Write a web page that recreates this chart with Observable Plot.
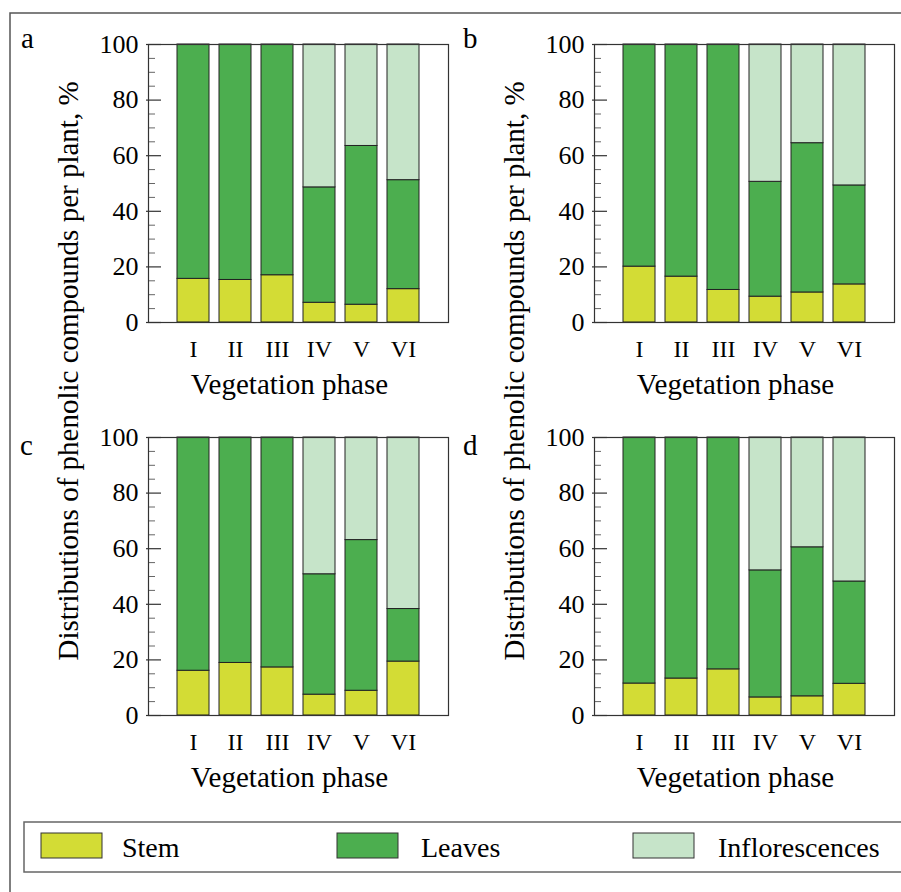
<!DOCTYPE html>
<html>
<head>
<meta charset="utf-8">
<script src="https://cdn.jsdelivr.net/npm/d3@7"></script>
<script src="https://cdn.jsdelivr.net/npm/@observablehq/plot@0.6"></script>
<style>
  html, body { margin: 0; padding: 0; background: #fff; }
  #root { position: relative; width: 901px; height: 892px; overflow: hidden; font-family: 'Liberation Serif', serif; }
  .panel { position: absolute; }
  .panel svg { overflow: visible; }
  #overlay { position: absolute; left: 0; top: 0; pointer-events: none; }
</style>
</head>
<body>
<div id="root"></div>
<script>
// ---- data ----
const phases = ["I", "II", "III", "IV", "V", "VI"];
const parts = ["Stem", "Leaves", "Inflorescences"];
const partColors = ["#d3dc35", "#4cae4f", "#c6e4c9"];
const yTicks = [0, 20, 40, 60, 80, 100];
const yMinorTicks = [5, 10, 15, 25, 30, 35, 45, 50, 55, 65, 70, 75, 85, 90, 95];
const panelLetters = ["a", "b", "c", "d"];
const xTitle = "Vegetation phase";
const yTitle = "Distributions of phenolic compounds per plant, %";

// panel a
const stemA = [15.7, 15.3, 17.0, 7.1, 6.4, 12.0];
const leavesA = [84.3, 84.7, 83.0, 41.5, 57.1, 39.2];
const inflA = [0, 0, 0, 51.4, 36.5, 48.8];
// panel b
const stemB = [20.1, 16.5, 11.7, 9.3, 10.8, 13.7];
const leavesB = [79.9, 83.5, 88.3, 41.3, 53.7, 35.6];
const inflB = [0, 0, 0, 49.4, 35.5, 50.7];
// panel c
const stemC = [16.1, 18.9, 17.3, 7.5, 8.9, 19.4];
const leavesC = [83.9, 81.1, 82.7, 43.3, 54.2, 18.9];
const inflC = [0, 0, 0, 49.2, 36.9, 61.7];
// panel d
const stemD = [11.5, 13.3, 16.6, 6.5, 6.9, 11.4];
const leavesD = [88.5, 86.7, 83.4, 45.7, 53.6, 36.8];
const inflD = [0, 0, 0, 47.8, 39.5, 51.8];

// ---- build ----
const root = document.getElementById("root");
const FRAME_W = 300;
const FONT = "'Liberation Serif', serif";

function makePanel(stem, leaves, infl) {
  const rows = phases.flatMap((p, i) => [
    {phase: p, part: "Stem", value: stem[i]},
    {phase: p, part: "Leaves", value: leaves[i]},
    {phase: p, part: "Inflorescences", value: infl[i]}
  ]).filter(d => d.value > 0);
  return Plot.plot({
    width: 452,
    height: 410,
    marginLeft: 148,
    marginRight: 4,
    marginTop: 44,
    marginBottom: 88,
    style: {fontFamily: FONT, fontSize: "26px", background: "transparent", overflow: "visible", color: "#000"},
    x: {domain: phases, paddingInner: 0.25, paddingOuter: 0.5, insetLeft: 6, insetRight: 6, axis: null},
    y: {domain: [0, 100], axis: null},
    color: {domain: parts, range: partColors},
    marks: [
      Plot.barY(rows, Plot.stackY({x: "phase", y: "value", fill: "part", order: parts, stroke: "#222", strokeWidth: 1})),
      Plot.tickY(yMinorTicks, {y: d => d, stroke: "#666", strokeWidth: 1, insetRight: FRAME_W - 7}),
      Plot.tickY(yTicks, {y: d => d, stroke: "#333", strokeWidth: 1.2, insetLeft: -2, insetRight: FRAME_W - 13}),
      Plot.axisY({ticks: yTicks, tickSize: 0, tickPadding: 10, fontSize: 26, label: null}),
      Plot.axisX({tickSize: 0, tickPadding: 17, fontSize: 24, label: null}),
      Plot.text([xTitle], {text: d => d, frameAnchor: "bottom", dy: 71, dx: -9, fontSize: 29}),
      Plot.frame({stroke: "#333", strokeWidth: 1.2})
    ]
  });
}

const panels = [
  {left: 0, top: 0, chart: makePanel(stemA, leavesA, inflA)},
  {left: 446, top: 0, chart: makePanel(stemB, leavesB, inflB)},
  {left: 0, top: 393, chart: makePanel(stemC, leavesC, inflC)},
  {left: 446, top: 393, chart: makePanel(stemD, leavesD, inflD)}
];
for (const p of panels) {
  const div = document.createElement("div");
  div.className = "panel";
  div.style.left = p.left + "px";
  div.style.top = p.top + "px";
  div.appendChild(p.chart);
  root.appendChild(div);
}

// ---- overlay: border, panel letters, y titles, legend ----
const svg = d3.create("svg").attr("id", "overlay").attr("width", 901).attr("height", 892)
  .style("font-family", FONT).attr("fill", "#000");
svg.append("rect").attr("x", 10).attr("y", 13).attr("width", 1000).attr("height", 1000)
  .attr("fill", "none").attr("stroke", "#555").attr("stroke-width", 1.5);

const letterPos = [[21, 48], [463, 48], [20, 455], [463, 455]];
panelLetters.forEach((l, i) => {
  svg.append("text").attr("x", letterPos[i][0]).attr("y", letterPos[i][1]).attr("font-size", 29).text(l);
});

[78, 524].forEach(x => {
  svg.append("text").attr("transform", `translate(${x},371) rotate(-90)`)
    .attr("text-anchor", "middle").attr("font-size", 29).text(yTitle);
});

// legend
svg.append("rect").attr("x", 24).attr("y", 822).attr("width", 1000).attr("height", 50)
  .attr("fill", "#fff").attr("stroke", "#666").attr("stroke-width", 1.5);
const legSwatchX = [41, 337, 633];
const legTextX = [122, 421, 718];
parts.forEach((p, i) => {
  svg.append("rect").attr("x", legSwatchX[i]).attr("y", 833).attr("width", 61).attr("height", 25)
    .attr("fill", partColors[i]).attr("stroke", "#333").attr("stroke-width", 1);
  svg.append("text").attr("x", legTextX[i]).attr("y", 857).attr("font-size", 28).text(p);
});

root.appendChild(svg.node());
</script>
</body>
</html>
